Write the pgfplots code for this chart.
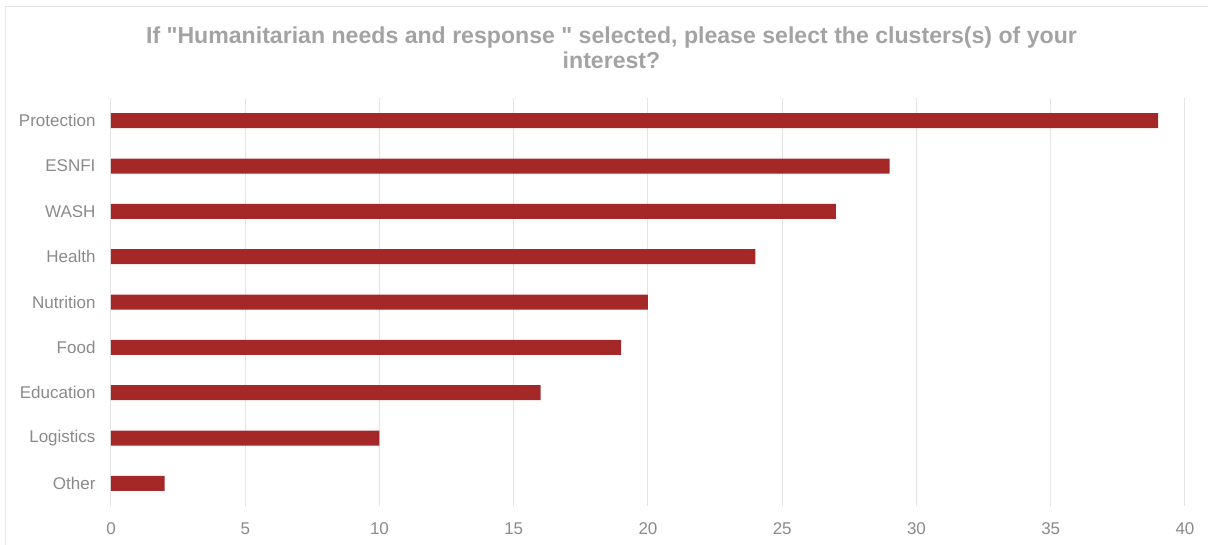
\documentclass[border=0pt]{standalone}
\usepackage{fontspec}
\setmainfont{Liberation Sans}[Ligatures=TeXOff]
\usepackage{pgfplots}
\pgfplotsset{compat=1.18}
\definecolor{barred}{HTML}{A52828}
\definecolor{gridgray}{HTML}{E3E3E3}
\definecolor{labelgray}{HTML}{8A8A8A}
\definecolor{titlegray}{HTML}{A3A3A3}
\begin{document}
\begin{tikzpicture}[x=1pt,y=1pt]
\useasboundingbox (0,0) rectangle (1208,544);
\draw[color=gridgray, line width=1pt] (5.5,-10) -- (5.5,537.5) -- (1220,537.5);
\node[font=\bfseries\fontsize{23.1}{25}\selectfont, text=titlegray, align=center] at (611.5,496) {If "Humanitarian needs and response " selected, please select the clusters(s) of your\\interest?};
\begin{axis}[
 at={(111pt,38pt)}, anchor=south west,
 scale only axis, width=1074pt, height=408pt,
 xbar, bar width=15pt,
 xmin=0, xmax=40, ymin=-0.5, ymax=8.5,
 xtick={0,5,...,40},
 ytick={0,...,8},
 yticklabels={Other,Logistics,Education,Food,Nutrition,Health,WASH,ESNFI,Protection},
 axis line style={draw=none},
 major tick length=0pt,
 xmajorgrids, grid style={gridgray, line width=1pt},
 tick label style={font=\fontsize{17}{20}\selectfont, text=labelgray},
 /pgf/number format/assume math mode=true,
 yticklabel style={xshift=-12pt},
 xticklabel style={yshift=-13pt},
]
\addplot[fill=barred, draw=none] coordinates {(2,0) (10,1) (16,2) (19,3) (20,4) (24,5) (27,6) (29,7) (39,8)};
\end{axis}
\end{tikzpicture}
\end{document}
